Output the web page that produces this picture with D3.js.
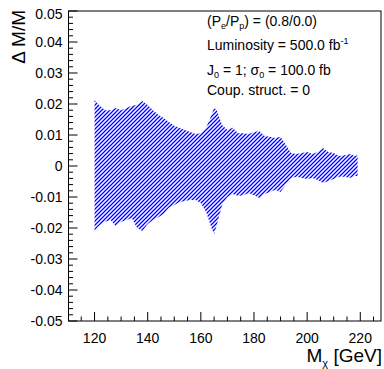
<!DOCTYPE html>
<html>
<head>
<meta charset="utf-8">
<script src="https://cdn.jsdelivr.net/npm/d3@7"></script>
<style>
  body { margin: 0; background: #fff; }
  svg { display: block; font-family: "Liberation Sans", Arial, sans-serif; }
</style>
</head>
<body>
<svg id="chart" width="384" height="369"></svg>
<script>
// --- DATA ---
const masses = [120, 122, 124, 126, 128, 130, 132, 134, 136, 138, 140, 142, 144, 146, 148,
  150, 152, 154, 156, 158, 160, 162, 164, 165, 166, 168, 170, 172, 174, 176, 178, 180,
  182, 184, 186, 188, 190, 192, 194, 196, 198, 200, 202, 204, 206, 208, 210, 212, 214,
  216, 218, 219];
const upper = [0.0213, 0.0194, 0.018, 0.018, 0.0187, 0.018, 0.0187, 0.0194, 0.0197, 0.021,
  0.0197, 0.018, 0.0165, 0.0155, 0.0142, 0.013, 0.0123, 0.0116, 0.011, 0.0103, 0.0106,
  0.0123, 0.0165, 0.0187, 0.018, 0.0132, 0.0116, 0.0123, 0.0106, 0.0106, 0.0103, 0.011,
  0.0113, 0.0097, 0.0094, 0.009, 0.0094, 0.0068, 0.0042, 0.0039, 0.0042, 0.0045, 0.0039,
  0.0045, 0.0058, 0.0045, 0.0042, 0.0032, 0.0035, 0.0039, 0.0032, 0.0035];
const lower = [-0.0208, -0.019, -0.018, -0.0174, -0.0194, -0.018, -0.0174, -0.0168, -0.02,
  -0.021, -0.0187, -0.0174, -0.0165, -0.0155, -0.0135, -0.0126, -0.0116, -0.0113, -0.011,
  -0.011, -0.012, -0.0148, -0.02, -0.022, -0.019, -0.0126, -0.01, -0.009, -0.0097, -0.0094,
  -0.0087, -0.0094, -0.0103, -0.009, -0.0084, -0.0077, -0.0084, -0.006, -0.0039, -0.0035,
  -0.0039, -0.0042, -0.0039, -0.0045, -0.0055, -0.0048, -0.0042, -0.0035, -0.0035, -0.0039,
  -0.0032, -0.0032];
const xTicks = [120, 140, 160, 180, 200, 220];
const yTicks = [0.05, 0.04, 0.03, 0.02, 0.01, 0, -0.01, -0.02, -0.03, -0.04, -0.05];

const svg = d3.select("#chart");
const padL = 68.5, padR = 381, padT = 11, padB = 321;

const x = d3.scaleLinear().domain([110.2, 227.8]).range([padL, padR]);
const y = d3.scaleLinear().domain([-0.05, 0.05]).range([padB, padT]);

// --- HATCH PATTERN ("/" diagonals) ---
const hw = 4;
svg.append("defs").append("pattern")
  .attr("id", "hatch")
  .attr("patternUnits", "userSpaceOnUse")
  .attr("width", hw).attr("height", hw)
  .append("path")
  .attr("d", `M0,${hw} L${hw},0 M${-hw / 2},${hw / 2} L${hw / 2},${-hw / 2} M${hw / 2},${hw * 1.5} L${hw * 1.5},${hw / 2}`)
  .attr("stroke", "#0000ff")
  .attr("stroke-width", 1.3);

// --- BAND ---
const band = masses.map((m, i) => ({ m, lo: lower[i], hi: upper[i] }));
svg.append("path")
  .datum(band)
  .attr("fill", "url(#hatch)")
  .attr("d", d3.area().x(d => x(d.m)).y0(d => y(d.lo)).y1(d => y(d.hi)));

// --- FRAME ---
svg.append("rect")
  .attr("x", padL).attr("y", padT)
  .attr("width", padR - padL).attr("height", padB - padT)
  .attr("fill", "none").attr("stroke", "#000").attr("stroke-width", 1);

// --- X AXIS (ticks point inward) ---
const xAxis = svg.append("g").attr("transform", `translate(0,${padB})`);
xAxis.selectAll("line")
  .data(d3.range(115, 227, 5))
  .enter().append("line")
  .attr("x1", d => x(d)).attr("x2", d => x(d))
  .attr("y1", 0).attr("y2", d => d % 20 === 0 ? -9 : -4.5)
  .attr("stroke", "#000");
xAxis.selectAll("text")
  .data(xTicks)
  .enter().append("text")
  .attr("x", d => x(d)).attr("y", 22)
  .attr("text-anchor", "middle")
  .attr("font-size", 14)
  .text(d => d);

// --- Y AXIS ---
const yAxis = svg.append("g").attr("transform", `translate(${padL},0)`);
yAxis.selectAll("line")
  .data(d3.range(-50, 51, 2))
  .enter().append("line")
  .attr("x1", 0).attr("x2", d => d % 10 === 0 ? 9 : 4.5)
  .attr("y1", d => y(d / 1000)).attr("y2", d => y(d / 1000))
  .attr("stroke", "#000");
yAxis.selectAll("text")
  .data(yTicks)
  .enter().append("text")
  .attr("x", -6)
  .attr("y", d => y(d) + (d === 0.05 ? 3 : 0))
  .attr("dy", "0.36em")
  .attr("text-anchor", "end")
  .attr("font-size", 14)
  .text(d => String(d));

// --- AXIS TITLES ---
const xt = svg.append("text")
  .attr("x", padR + 1).attr("y", 361.5)
  .attr("text-anchor", "end")
  .attr("font-size", 19);
xt.append("tspan").text("M");
xt.append("tspan").attr("font-size", 11).attr("dy", 5).text("χ");
xt.append("tspan").attr("dy", -5).text(" [GeV]");

svg.append("text")
  .attr("transform", "translate(25,10) rotate(-90)")
  .attr("text-anchor", "end")
  .attr("font-size", 19)
  .text("Δ M/M");

// --- INFO TEXT ---
const info = svg.append("g").attr("font-size", 14);
const tx = 207;

const l1 = info.append("text").attr("x", tx).attr("y", 26);
l1.append("tspan").text("(P");
l1.append("tspan").attr("font-size", 9).attr("dy", 3).text("e");
l1.append("tspan").attr("dy", -3).text("/P");
l1.append("tspan").attr("font-size", 9).attr("dy", 3).text("p");
l1.append("tspan").attr("dy", -3).text(") = (0.8/0.0)");

const l2 = info.append("text").attr("x", tx).attr("y", 50);
l2.append("tspan").text("Luminosity = 500.0 fb");
l2.append("tspan").attr("font-size", 9).attr("dy", -6).text("-1");

const l3 = info.append("text").attr("x", tx).attr("y", 75);
l3.append("tspan").text("J");
l3.append("tspan").attr("font-size", 9).attr("dy", 3).text("0");
l3.append("tspan").attr("dy", -3).text(" = 1; σ");
l3.append("tspan").attr("font-size", 9).attr("dy", 3).text("0");
l3.append("tspan").attr("dy", -3).text(" = 100.0 fb");

info.append("text").attr("x", tx).attr("y", 95).text("Coup. struct. = 0");
</script>
</body>
</html>
